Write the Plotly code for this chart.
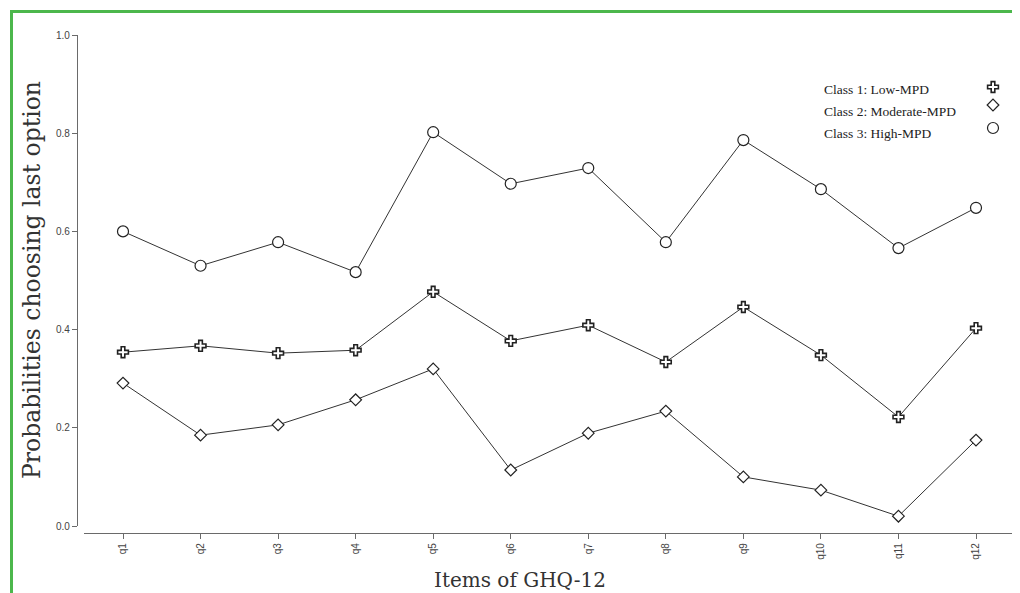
import plotly.graph_objects as go

items = ["q1", "q2", "q3", "q4", "q5", "q6", "q7", "q8", "q9", "q10", "q11", "q12"]
low_mpd = [0.354, 0.367, 0.352, 0.358, 0.477, 0.377, 0.409, 0.334, 0.446, 0.348, 0.222, 0.403]
moderate_mpd = [0.291, 0.185, 0.206, 0.257, 0.320, 0.114, 0.189, 0.234, 0.100, 0.073, 0.020, 0.175]
high_mpd = [0.600, 0.530, 0.578, 0.517, 0.802, 0.697, 0.729, 0.578, 0.786, 0.686, 0.566, 0.648]
y_ticks = [0.0, 0.2, 0.4, 0.6, 0.8, 1.0]
legend_names = ["Class 1: Low-MPD", "Class 2: Moderate-MPD", "Class 3: High-MPD"]

# page has an 8px body margin; work in page pixels and convert
OFF = 8
W, H = 1020 - OFF, 593 - OFF
L, R, T, B = 77 - OFF, 0, 35 - OFF, 593 - 533
PW, PH = W - L - R, H - T - B

def px(x):
    return (x - OFF - L) / PW

def py(y):
    return (H - B - (y - OFF)) / PH

LINE = "#333333"
AX = "#6a6a6a"
series = [
    (low_mpd, "cross", 9, 1.6, legend_names[0]),
    (moderate_mpd, "diamond", 9, 1.2, legend_names[1]),
    (high_mpd, "circle", 11, 1.2, legend_names[2]),
]

fig = go.Figure()
for vals, sym, sz, lw, name in series:
    fig.add_trace(go.Scatter(
        x=list(range(len(items))), y=vals, mode="lines+markers", name=name,
        line=dict(color=LINE, width=1),
        marker=dict(symbol=sym, size=sz, color="white", line=dict(color="#222222", width=lw)),
        showlegend=False, xaxis="x", yaxis="y",
    ))

# manual legend: text on the left, marker on the right
leg_text_y = [89, 111, 133]
leg_mark_y = [87, 105, 128]
for i, (vals, sym, sz, lw, name) in enumerate(series):
    fig.add_annotation(x=px(822), y=py(leg_text_y[i]), xref="paper", yref="paper",
                       text=name, showarrow=False, xanchor="left", yanchor="middle",
                       font=dict(family="Liberation Serif", size=13.5, color="#222222"))
    fig.add_trace(go.Scatter(
        x=[px(993)], y=[py(leg_mark_y[i])], mode="markers", xaxis="x2", yaxis="y2",
        marker=dict(symbol=sym, size=sz, color="white", line=dict(color="#222222", width=lw)),
        showlegend=False, hoverinfo="skip",
    ))

n = len(items)
unit = (976 - 123) / (n - 1)
x_lo = -(123 - 84) / unit
x_hi = (n - 1) + (1020 - 976) / unit

fig.update_layout(
    width=W, height=H,
    margin=dict(l=L, r=R, t=T, b=B, pad=0),
    paper_bgcolor="white", plot_bgcolor="rgba(0,0,0,0)",
    xaxis=dict(
        domain=[px(84), 1], range=[x_lo, x_hi], anchor="free", position=0,
        tickmode="array", tickvals=list(range(n)), ticktext=items, tickangle=-90,
        showline=True, linecolor=AX, linewidth=1.3, ticks="outside", ticklen=5,
        tickcolor=AX, tickwidth=1.3, showgrid=False, zeroline=False,
        tickfont=dict(family="Liberation Sans", size=10, color="#444444"), automargin=False,
    ),
    yaxis=dict(
        domain=[py(526), 1], range=[0, 1], anchor="free", position=0,
        tickmode="array", tickvals=y_ticks, ticktext=[f"{v:.1f}" for v in y_ticks],
        showline=True, linecolor=AX, linewidth=1.3, ticks="outside", ticklen=5,
        tickcolor=AX, tickwidth=1.3, showgrid=False, zeroline=False,
        tickfont=dict(family="Liberation Sans", size=10, color="#444444"), automargin=False,
    ),
    xaxis2=dict(domain=[0, 1], range=[0, 1], anchor="y2", visible=False, fixedrange=True),
    yaxis2=dict(domain=[0, 1], range=[0, 1], anchor="x2", visible=False, fixedrange=True),
)

# axis titles
fig.add_annotation(x=px(32), y=py(280), xref="paper", yref="paper",
                   xanchor="center", yanchor="middle",
                   text="Probabilities choosing last option", textangle=-90, showarrow=False,
                   font=dict(family="DejaVu Serif", size=23.5, color="#333333"))
fig.add_annotation(x=px(520), y=py(580), xref="paper", yref="paper",
                   xanchor="center", yanchor="middle",
                   text="Items of GHQ-12", showarrow=False,
                   font=dict(family="DejaVu Serif", size=20, color="#333333"))

# green frame
G = "#4cb74c"
fig.add_shape(type="line", xref="paper", yref="paper", x0=px(11.5), x1=px(11.5),
              y0=py(10), y1=py(600), line=dict(color=G, width=3))
fig.add_shape(type="line", xref="paper", yref="paper", x0=px(10), x1=px(1025),
              y0=py(11.5), y1=py(11.5), line=dict(color=G, width=3))

fig.write_html("out.html")
